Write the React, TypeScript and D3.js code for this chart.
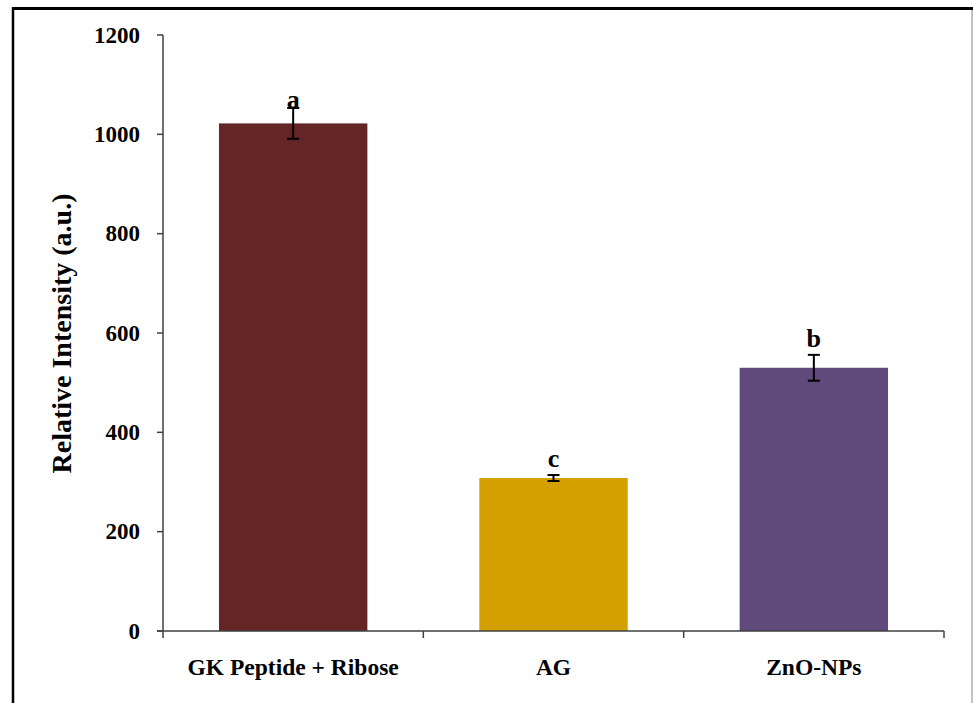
import React from 'react';
import * as d3 from 'd3';

const categories = ['GK Peptide + Ribose', 'AG', 'ZnO-NPs'];
const values = [1022, 308, 530];
const errors = [31, 6, 26];
const letters = ['a', 'c', 'b'];
const yTicks = [0, 200, 400, 600, 800, 1000, 1200];
const colors = ['#632526', '#D4A000', '#604A7B'];

const FONT = "'Liberation Serif', 'Times New Roman', 'DejaVu Serif', serif";

const App: React.FC = () => {
  const width = 973;
  const height = 703;
  const plot = { left: 163, right: 944, top: 35, bottom: 631 };

  const yScale = d3.scaleLinear().domain([0, 1200]).range([plot.bottom, plot.top]);
  const xScale = d3
    .scaleBand()
    .domain(categories)
    .range([plot.left, plot.right])
    .paddingInner(0.43)
    .paddingOuter(0.215);
  const step = xScale.step();
  const boundaries = d3.range(categories.length + 1).map(i => plot.left + i * step);

  const axisColor = '#404040';

  return (
    <svg width={width} height={height} style={{ position: 'absolute', left: 0, top: 0, background: '#fff', fontFamily: FONT }}>
      {/* frame */}
      <line x1={12} x2={973} y1={8.5} y2={8.5} stroke="#000" strokeWidth={3} />
      <line x1={13} x2={13} y1={7} y2={703} stroke="#000" strokeWidth={2.5} />
      <line x1={972} x2={972} y1={10} y2={703} stroke="#999" strokeWidth={1.2} />

      {/* bars */}
      {categories.map((c, i) => (
        <rect
          key={c}
          x={xScale(c)}
          y={yScale(values[i])}
          width={xScale.bandwidth()}
          height={yScale(0) - yScale(values[i])}
          fill={colors[i]}
        />
      ))}

      {/* error bars + letters */}
      {categories.map((c, i) => {
        const cx = (xScale(c) as number) + xScale.bandwidth() / 2;
        const top = yScale(values[i] + errors[i]);
        const bot = yScale(values[i] - errors[i]);
        return (
          <g key={c} stroke="#000" strokeWidth={2}>
            <line x1={cx} x2={cx} y1={top} y2={bot} />
            <line x1={cx - 6} x2={cx + 6} y1={top} y2={top} />
            <line x1={cx - 6} x2={cx + 6} y1={bot} y2={bot} />
            <text
              x={cx}
              y={top - (i === 0 ? 0 : 8)}
              textAnchor="middle"
              stroke="none"
              fill="#000"
              fontWeight="bold"
              fontSize={26}
            >
              {letters[i]}
            </text>
          </g>
        );
      })}

      {/* y axis */}
      <line x1={plot.left} x2={plot.left} y1={plot.top} y2={plot.bottom} stroke={axisColor} strokeWidth={1.5} />
      {yTicks.map(t => (
        <g key={t}>
          <line x1={plot.left - 6} x2={plot.left} y1={yScale(t)} y2={yScale(t)} stroke={axisColor} strokeWidth={1.5} />
          <text
            x={140}
            y={yScale(t)}
            dy="0.34em"
            textAnchor="end"
            fontWeight="bold"
            fontSize={23}
            fill="#000"
          >
            {t}
          </text>
        </g>
      ))}

      {/* x axis */}
      <line x1={plot.left - 6} x2={plot.right} y1={plot.bottom} y2={plot.bottom} stroke={axisColor} strokeWidth={1.5} />
      {boundaries.map((b, i) => (
        <line key={i} x1={b} x2={b} y1={plot.bottom} y2={plot.bottom + 7} stroke={axisColor} strokeWidth={1.5} />
      ))}
      {categories.map(c => (
        <text
          key={c}
          x={(xScale(c) as number) + xScale.bandwidth() / 2}
          y={675}
          textAnchor="middle"
          fontWeight="bold"
          fontSize={23.5}
          fill="#000"
        >
          {c}
        </text>
      ))}

      {/* y label */}
      <text
        transform={`translate(71, ${(190 + 477) / 2}) rotate(-90)`}
        textAnchor="middle"
        fontWeight="bold"
        fontSize={28}
        fill="#000"
      >
        Relative Intensity (a.u.)
      </text>
    </svg>
  );
};

export default App;
